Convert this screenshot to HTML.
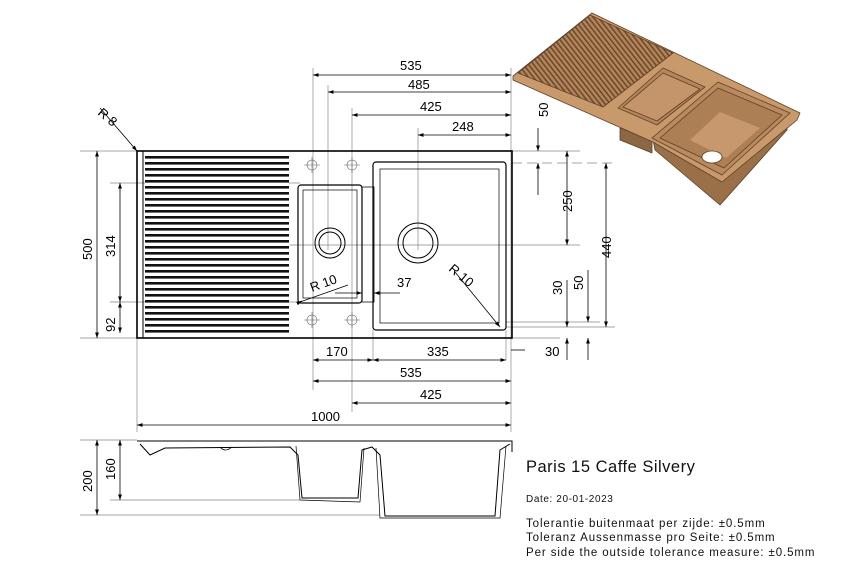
<!DOCTYPE html>
<html><head><meta charset="utf-8"><style>
html,body{margin:0;padding:0;background:#fff;}
svg{display:block;font-family:"Liberation Sans",sans-serif;}
</style></head><body>
<svg width="864" height="569" viewBox="0 0 864 569" xmlns="http://www.w3.org/2000/svg">
<defs>
<marker id="a" viewBox="0 0 10 10" refX="10" refY="5" markerWidth="7" markerHeight="7" orient="auto-start-reverse"><path d="M0,1.5 L10,5 L0,8.5z" fill="#000"/></marker>
<pattern id="rib" width="4" height="6" patternUnits="userSpaceOnUse"><rect width="4" height="6" fill="#fff"/><rect y="0" width="4" height="2.6" fill="#111"/></pattern>
<pattern id="rib3" width="4" height="4" patternUnits="userSpaceOnUse" patternTransform="rotate(-38)"><rect width="4" height="4" fill="#b58558"/><rect width="1.6" height="4" fill="#6a4a30"/></pattern>
</defs>
<g stroke="#888" stroke-width="0.7" fill="none">
<line x1="313" y1="68" x2="313" y2="390"/><line x1="328" y1="85" x2="328" y2="250"/><line x1="352" y1="108" x2="352" y2="412"/><line x1="418" y1="128" x2="418" y2="250"/><line x1="511" y1="68" x2="511" y2="432"/>
<line x1="137" y1="338" x2="137" y2="432"/><line x1="373" y1="330" x2="373" y2="360"/><line x1="506" y1="330" x2="506" y2="360"/>
<line x1="80" y1="151" x2="580" y2="151"/><line x1="80" y1="338" x2="560" y2="338"/>
<line x1="110" y1="183" x2="300" y2="183"/><line x1="110" y1="302" x2="300" y2="302"/>
<line x1="290" y1="245" x2="580" y2="245"/>
<line x1="512" y1="163" x2="615" y2="163" stroke-dasharray="10,5"/>
<line x1="506" y1="327" x2="615" y2="327"/><line x1="506" y1="322" x2="600" y2="322"/>
<line x1="80" y1="440" x2="137" y2="440"/><line x1="110" y1="500" x2="300" y2="500"/><line x1="80" y1="515" x2="380" y2="515"/>
</g>
<g stroke="#000" fill="none">
<rect x="137" y="151" width="375" height="187" stroke-width="1.6"/>
<line x1="143" y1="151" x2="143" y2="338" stroke-width="1"/>
<rect x="145" y="156" width="144" height="178" fill="url(#rib)" stroke="none"/>
<rect x="298" y="185" width="64" height="118" rx="3" stroke-width="1.2"/>
<rect x="303" y="190" width="54" height="108" stroke-width="0.7"/>
<path d="M362 187 h12 v115 h-12" stroke-width="0.8"/>
<rect x="373" y="162" width="133" height="168" rx="3" stroke-width="1.2"/>
<rect x="380" y="169" width="119" height="154" stroke-width="0.7"/>
<circle cx="330" cy="243" r="15" stroke-width="1"/><circle cx="330" cy="243" r="11"/>
<circle cx="418" cy="243" r="20" stroke-width="1"/><circle cx="418" cy="243" r="15"/>
</g>
<g stroke="#666" stroke-width="0.6" fill="none">
<circle cx="312" cy="165" r="5"/><circle cx="352" cy="165" r="5"/><circle cx="312" cy="320" r="5"/><circle cx="352" cy="320" r="5"/>
<path d="M304 165h16M312 157v16M344 165h16M352 157v16M304 320h16M312 312v16M344 320h16M352 312v16"/>
</g>
<g stroke="#000" stroke-width="0.8" fill="none">
<line x1="313" y1="75" x2="511" y2="75" marker-start="url(#a)" marker-end="url(#a)"/>
<line x1="328" y1="92" x2="511" y2="92" marker-start="url(#a)" marker-end="url(#a)"/>
<line x1="352" y1="115" x2="511" y2="115" marker-start="url(#a)" marker-end="url(#a)"/>
<line x1="418" y1="135" x2="511" y2="135" marker-start="url(#a)" marker-end="url(#a)"/>
<line x1="313" y1="360" x2="373" y2="360" marker-start="url(#a)" marker-end="url(#a)"/>
<line x1="373" y1="360" x2="506" y2="360" marker-start="url(#a)" marker-end="url(#a)"/>
<line x1="313" y1="381" x2="511" y2="381" marker-start="url(#a)" marker-end="url(#a)"/>
<line x1="352" y1="403" x2="511" y2="403" marker-start="url(#a)" marker-end="url(#a)"/>
<line x1="137" y1="425" x2="511" y2="425" marker-start="url(#a)" marker-end="url(#a)"/>
<line x1="97" y1="151" x2="97" y2="338" marker-start="url(#a)" marker-end="url(#a)"/>
<line x1="120" y1="183" x2="120" y2="302" marker-start="url(#a)" marker-end="url(#a)"/>
<line x1="120" y1="302" x2="120" y2="333" marker-start="url(#a)" marker-end="url(#a)"/>
<line x1="97" y1="440" x2="97" y2="515" marker-start="url(#a)" marker-end="url(#a)"/>
<line x1="120" y1="440" x2="120" y2="500" marker-start="url(#a)" marker-end="url(#a)"/>
<line x1="567" y1="151" x2="567" y2="245" marker-start="url(#a)" marker-end="url(#a)"/>
<line x1="606" y1="163" x2="606" y2="327" marker-start="url(#a)" marker-end="url(#a)"/>
<line x1="538" y1="128" x2="538" y2="151" marker-end="url(#a)"/><line x1="538" y1="195" x2="538" y2="163" marker-end="url(#a)"/>
<line x1="567" y1="280" x2="567" y2="327" marker-end="url(#a)"/><line x1="567" y1="360" x2="567" y2="338" marker-end="url(#a)"/>
<line x1="588" y1="270" x2="588" y2="322" marker-end="url(#a)"/><line x1="588" y1="360" x2="588" y2="338" marker-end="url(#a)"/>
<line x1="525" y1="350" x2="511" y2="350"/>
<line x1="100" y1="108" x2="137" y2="151" marker-end="url(#a)"/>
<line x1="300" y1="302" x2="348" y2="285"/><line x1="300" y1="302" x2="302" y2="301" marker-end="url(#a)"/>
<line x1="455" y1="272" x2="500" y2="327" marker-end="url(#a)"/>
<line x1="335" y1="293" x2="362" y2="293" marker-end="url(#a)"/><line x1="400" y1="293" x2="374" y2="293" marker-end="url(#a)"/>
</g>
<g font-size="13" fill="#000">
<text x="400" y="70">535</text><text x="408" y="89">485</text><text x="420" y="111">425</text><text x="452" y="131">248</text>
<text x="326" y="356">170</text><text x="427" y="356">335</text><text x="545" y="356">30</text>
<text x="400" y="377">535</text><text x="420" y="399">425</text><text x="311" y="421">1000</text>
<text x="397" y="287">37</text>
<text transform="translate(312,292) rotate(-20)">R 10</text>
<text transform="translate(448,270) rotate(40)">R 10</text>
<text transform="translate(97,114) rotate(40)">R 8</text>
<text transform="translate(92,260) rotate(-90)">500</text>
<text transform="translate(115,257) rotate(-90)">314</text>
<text transform="translate(115,332) rotate(-90)">92</text>
<text transform="translate(92,492) rotate(-90)">200</text>
<text transform="translate(115,480) rotate(-90)">160</text>
<text transform="translate(548,117) rotate(-90)">50</text>
<text transform="translate(572,212) rotate(-90)">250</text>
<text transform="translate(611,258) rotate(-90)">440</text>
<text transform="translate(562,295) rotate(-90)">30</text>
<text transform="translate(583,290) rotate(-90)">50</text>
</g>
<g stroke="#000" stroke-width="1" fill="none">
<path d="M137 441 H512 V452"/>
<path d="M140 444 L150 455 L165 448 L290 447 L298 455 L302 498 L358 498 L362 450 L372 447 L380 455 L385 516 L495 516 L500 450 L510 444"/>
<path d="M296 446 L300 500 L360 502 L364 448 M376 448 L380 518 L500 518 L506 446" stroke-width="0.7"/>
<path d="M220 447 q5 6 12 0" stroke-width="0.8"/>
</g>
<g fill="#111">
<text x="526" y="472" font-size="16.5" letter-spacing="0.5">Paris 15 Caffe Silvery</text>
<text x="526" y="502" font-size="10" letter-spacing="0.6">Date: 20-01-2023</text>
<text x="526" y="527" font-size="11.5" letter-spacing="0.9">Tolerantie buitenmaat per zijde: ±0.5mm</text>
<text x="526" y="541" font-size="11.5" letter-spacing="0.9">Toleranz Aussenmasse pro Seite: ±0.5mm</text>
<text x="526" y="556" font-size="11.5" letter-spacing="0.9">Per side the outside tolerance measure: ±0.5mm</text>
</g>
<!-- 3D view -->
<g stroke="#5e4028" stroke-width="0.8" stroke-linejoin="round">
<polygon points="620,128 652,140 652,153 620,140" fill="#8d6644"/>
<polygon points="653,140 722,180 787,123 787,130 720,205 655,150" fill="#9a7049"/>
<polygon points="513,76 592,13 800,113 797,120 722,182 653,142 513,80" fill="#c8996b"/>
<polygon points="518,73 590,15 673,53 603,107" fill="url(#rib3)"/>
<polygon points="618,108 663,68 705,87 657,125" fill="#b58659"/>
<polygon points="623,107 663,73 700,89 657,121" fill="#c4946a"/>
<polygon points="652,138 718,82 790,113 722,175" fill="#b98a5e"/>
<polygon points="660,138 718,88 782,115 724,168" fill="#ad7f55"/>
<polygon points="690,140 720,112 760,128 726,158" fill="#c7986d" stroke="none"/>
<ellipse cx="712" cy="157" rx="10" ry="6" fill="#fff"/>
</g>
</svg>
</body></html>
